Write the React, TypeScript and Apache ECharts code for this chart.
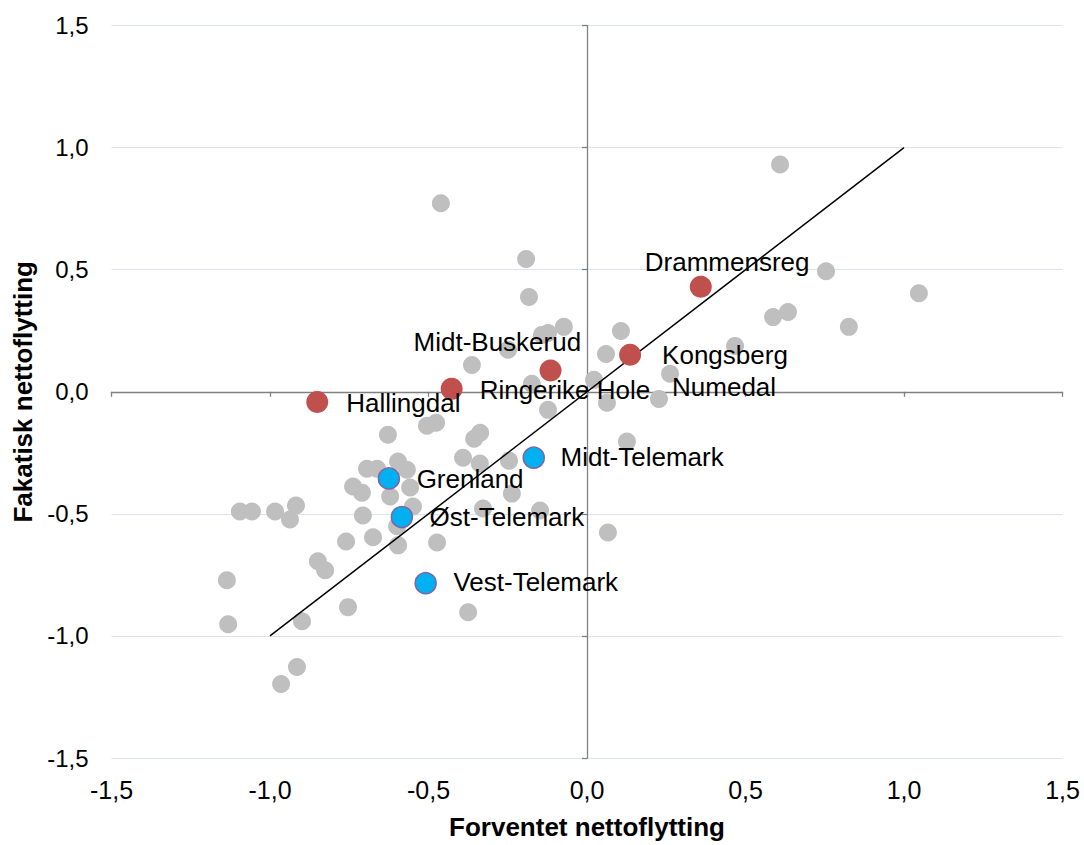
import React, { useEffect, useRef } from "react";
import * as echarts from "echarts";

// Grey points: [forventet, fakatisk]
const greyPoints: [number, number][] = [
  [0.609, 0.931], [-0.461, 0.772], [-0.192, 0.544], [-0.183, 0.388],
  [0.754, 0.494], [1.047, 0.404], [0.587, 0.306], [0.634, 0.327],
  [0.826, 0.266], [0.467, 0.188], [0.107, 0.249], [0.06, 0.155],
  [0.227, -0.029], [0.022, 0.049], [0.063, -0.045], [-0.073, 0.266],
  [-0.142, 0.233], [-0.123, 0.241], [-0.249, 0.172], [-0.363, 0.11],
  [-0.174, 0.033], [-0.123, -0.074], [-0.505, -0.139], [-0.476, -0.127],
  [-0.356, -0.192], [-0.337, -0.168], [-0.628, -0.176], [-0.391, -0.27],
  [-0.338, -0.294], [-0.246, -0.282], [0.126, -0.204], [-0.237, -0.417],
  [-0.328, -0.478], [-0.148, -0.486], [0.066, -0.576], [-0.473, -0.617],
  [-0.694, -0.315], [-0.662, -0.315], [-0.596, -0.286], [-0.568, -0.319],
  [-0.558, -0.392], [-0.738, -0.388], [-0.71, -0.413], [-0.621, -0.429],
  [-0.549, -0.47], [-0.707, -0.507], [-0.599, -0.551], [-0.76, -0.613],
  [-0.675, -0.596], [-0.596, -0.629], [-1.095, -0.49], [-1.057, -0.49],
  [-0.984, -0.49], [-0.918, -0.466], [-0.937, -0.523], [-0.849, -0.694],
  [-0.826, -0.731], [-1.136, -0.772], [-1.132, -0.952], [-0.899, -0.94],
  [-0.754, -0.882], [-0.375, -0.903], [-0.915, -1.127], [-0.965, -1.197],
];

const greyNames = ["Numedal"];
const greyNamedX = [0.262];
const greyNamedY = [0.074];

const redNames = ["Drammensreg", "Kongsberg", "Midt-Buskerud", "Ringerike Hole", "Hallingdal"];
const redX = [0.359, 0.136, -0.115, -0.427, -0.851];
const redY = [0.43, 0.152, 0.087, 0.012, -0.042];

const blueNames = ["Midt-Telemark", "Grenland", "Øst-Telemark", "Vest-Telemark"];
const blueX = [-0.168, -0.625, -0.584, -0.509];
const blueY = [-0.27, -0.355, -0.513, -0.784];

const diagonalX = [-1, 1];
const diagonalY = [-1, 1];

const axisTicks = [-1.5, -1.0, -0.5, 0, 0.5, 1.0, 1.5];

// label offsets (style, not data)
const labelOffsets: Record<string, [number, number]> = {
  Drammensreg: [-45, -14],
  Kongsberg: [43, 11],
  "Midt-Buskerud": [-126, -18],
  "Ringerike Hole": [39, 12],
  Hallingdal: [40, 12],
  "Midt-Telemark": [38, 11],
  Grenland: [39, 12],
  "Øst-Telemark": [39, 11],
  "Vest-Telemark": [39, 10],
  Numedal: [11, 22],
};

const FONT = "'Liberation Sans', Arial, sans-serif";
const fmt = (v: number) => v.toFixed(1).replace(".", ",");

export default function App() {
  const ref = useRef<HTMLDivElement>(null);
  useEffect(() => {
    if (!ref.current) return;
    const chart = echarts.init(ref.current, undefined, { renderer: "svg" });
    const labelStyle = (name: string) => ({
      show: true,
      formatter: name,
      position: labelOffsets[name],
      align: "left",
      verticalAlign: "middle",
      fontSize: 26,
      fontFamily: FONT,
      color: "#000",
    });
    const min = axisTicks[0];
    const max = axisTicks[axisTicks.length - 1];
    const interval = axisTicks[1] - axisTicks[0];
    const titleStyle = { fontSize: 26, fontWeight: "bold", fontFamily: FONT, color: "#000" };
    chart.setOption({
      animation: false,
      backgroundColor: "#fff",
      grid: { left: 111.5, right: 21.5, top: 25.6, bottom: 85, containLabel: false },
      xAxis: [
        {
          type: "value",
          min, max, interval,
          position: "bottom",
          axisLine: { show: false, onZero: false },
          axisTick: { show: false },
          splitLine: { show: false },
          axisLabel: { formatter: fmt, fontSize: 25, fontFamily: FONT, color: "#000", margin: 19 },
          name: "Forventet nettoflytting",
          nameLocation: "middle",
          nameGap: 56,
          nameTextStyle: titleStyle,
        },
        {
          type: "value",
          min, max, interval,
          position: "bottom",
          axisLine: { show: true, onZero: true, onZeroAxisIndex: 0, lineStyle: { color: "#808080", width: 1.3 } },
          axisTick: { show: true, length: 5, lineStyle: { color: "#808080", width: 1.3 } },
          splitLine: { show: false },
          axisLabel: { show: false },
        },
      ],
      yAxis: [
        {
          type: "value",
          min, max, interval,
          position: "left",
          axisLine: { show: false, onZero: false },
          axisTick: { show: false },
          splitLine: { show: true, lineStyle: { color: "#d9e3f1", width: 1 } },
          axisLabel: { formatter: fmt, fontSize: 24, fontFamily: FONT, color: "#000", margin: 23 },
          name: "Fakatisk nettoflytting",
          nameLocation: "middle",
          nameGap: 68,
          nameTextStyle: titleStyle,
        },
        {
          type: "value",
          min, max, interval,
          position: "left",
          axisLine: { show: true, onZero: true, onZeroAxisIndex: 0, lineStyle: { color: "#808080", width: 1.3 } },
          axisTick: { show: true, length: 5, lineStyle: { color: "#808080", width: 1.3 } },
          splitLine: { show: false },
          axisLabel: { show: false },
        },
      ],
      series: [
        {
          type: "scatter",
          xAxisIndex: 0,
          yAxisIndex: 0,
          symbolSize: 18,
          itemStyle: { color: "#bfbfbf", opacity: 1 },
          data: greyPoints,
          z: 2,
        },
        {
          type: "scatter",
          xAxisIndex: 0,
          yAxisIndex: 0,
          symbolSize: 18,
          itemStyle: { color: "#bfbfbf", opacity: 1 },
          data: greyNames.map((n, i) => ({ name: n, value: [greyNamedX[i], greyNamedY[i]], label: labelStyle(n) })),
          z: 2,
        },
        {
          type: "line",
          xAxisIndex: 0,
          yAxisIndex: 0,
          showSymbol: false,
          symbol: "none",
          lineStyle: { color: "#000", width: 1.5 },
          data: diagonalX.map((x, i) => [x, diagonalY[i]]),
          z: 3,
        },
        {
          type: "scatter",
          xAxisIndex: 0,
          yAxisIndex: 0,
          symbolSize: 22,
          itemStyle: { color: "#c0504d", opacity: 1 },
          data: redNames.map((n, i) => ({ name: n, value: [redX[i], redY[i]], label: labelStyle(n) })),
          z: 4,
        },
        {
          type: "scatter",
          xAxisIndex: 0,
          yAxisIndex: 0,
          symbolSize: 21,
          itemStyle: { color: "#00b0f0", borderColor: "#8064a2", borderWidth: 1.5, opacity: 1 },
          data: blueNames.map((n, i) => ({ name: n, value: [blueX[i], blueY[i]], label: labelStyle(n) })),
          z: 4,
        },
      ],
    });
    return () => chart.dispose();
  }, []);
  return (
    <div
      ref={ref}
      style={{ position: "fixed", left: 0, top: 0, width: 1084, height: 845, background: "#fff" }}
    />
  );
}
